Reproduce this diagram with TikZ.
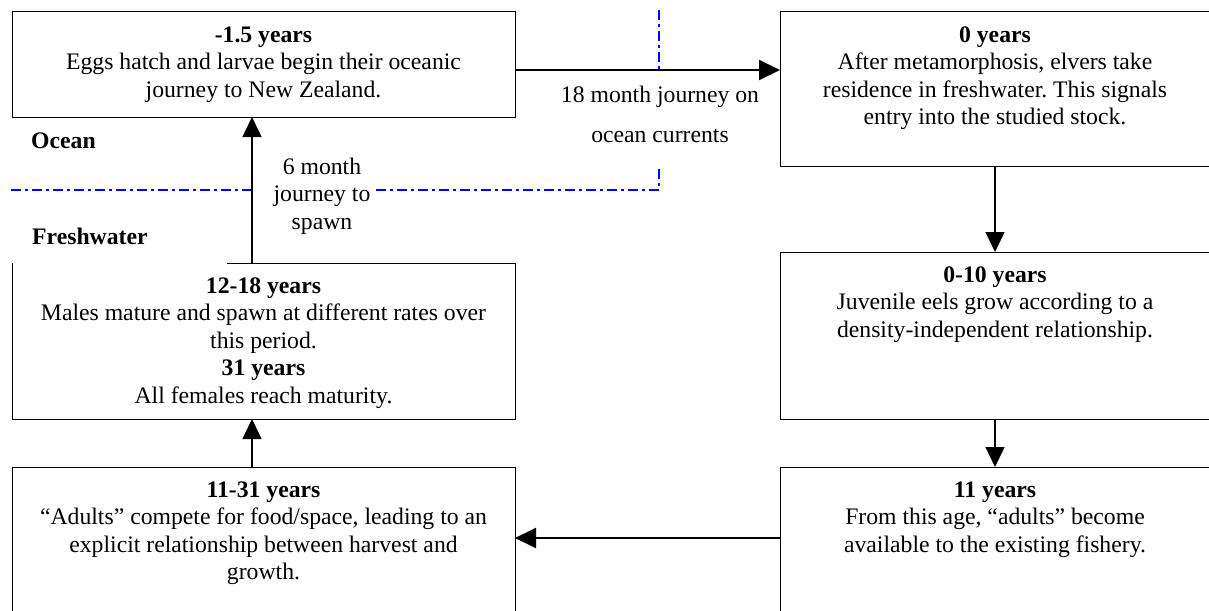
\documentclass[tikz,border=0pt]{standalone}
\usepackage{fontspec}
\setmainfont{Liberation Serif}
\usetikzlibrary{arrows.meta,calc}
\newcommand\tstrut{\rule{0pt}{18pt}}
\frenchspacing
\begin{document}
\begin{tikzpicture}[x=1pt,y=-1pt,
  box/.style={rectangle,draw=black,line width=1pt,inner sep=0pt,outer sep=0pt,anchor=north west},
  boxtext/.style={anchor=north,align=center,inner sep=0pt,font=\fontsize{23.7}{27.5}\selectfont},
  lbl/.style={anchor=north,align=center,inner sep=0pt},
  zone/.style={anchor=base west,inner sep=0pt,font=\fontsize{23.7}{27.5}\selectfont\bfseries},
  harrow/.style={line width=2pt,-{Triangle[length=21pt,width=20pt]}},
  varrow/.style={line width=1.5pt,-{Triangle[length=20pt,width=19pt]}},
  border/.style={blue,line width=2pt,dash pattern=on 10pt off 4pt on 3pt off 4pt}]
\useasboundingbox (0,0) rectangle (1209,610);
\fill[white] (0,0) rectangle (1209,610);
\clip (0,0) rectangle (1209,610);

% zone border (ocean / freshwater)
\draw[border] (11,190) -- (251,190);
\draw[border] (376,190) -- (659,190) -- (659,166);
\draw[border] (659,10) -- (659,70);

% boxes
\node[box,minimum width=503pt,minimum height=105pt] (A) at (12,12) {};
\node[box,minimum width=430pt,minimum height=154pt] (B) at (780,12) {};
\node[box,minimum width=430pt,minimum height=167pt] (C) at (780,252) {};
\node[box,minimum width=430pt,minimum height=173pt] (D) at (780,467) {};
\node[box,minimum width=503pt,minimum height=173pt] (E) at (12,467) {};
\node[box,draw=none,minimum width=503pt,minimum height=156pt] (F) at (12,263) {};
\draw[line width=1pt] ($(F.north west)+(215,0)$) -- (F.north east) -- (F.south east) -- (F.south west) -- (F.north west);

% box texts
\node[boxtext] (tA) at ([yshift=-12pt]A.north) {\tstrut\textbf{-1.5 years}\\Eggs hatch and larvae begin their oceanic\\journey to New Zealand.};
\node[boxtext] (tB) at ([yshift=-12pt]B.north) {\tstrut\textbf{0 years}\\After metamorphosis, elvers take\\residence in freshwater. This signals\\entry into the studied stock.};
\node[boxtext] (tC) at ([yshift=-12pt]C.north) {\tstrut\textbf{0-10 years}\\Juvenile eels grow according to a\\density-independent relationship.};
\node[boxtext] (tD) at ([yshift=-12pt]D.north) {\tstrut\textbf{11 years}\\From this age, “adults” become\\available to the existing fishery.};
\node[boxtext] (tE) at ([yshift=-12pt]E.north) {\tstrut\textbf{11-31 years}\\“Adults” compete for food/space, leading to an\\explicit relationship between harvest and\\growth.};
\node[boxtext] (tF) at ([yshift=-12pt]F.north) {\tstrut\textbf{12-18 years}\\Males mature and spawn at different rates over\\this period.\\\textbf{31 years}\\All females reach maturity.};

% zone labels
\node[zone] (ocean) at (31,148) {Ocean};
\node[zone] (fresh) at (32,244) {Freshwater};

% connectors
\coordinate (a1) at ($(A.north east)+(0,58)$);
\draw[harrow] (a1) -- (a1 -| B.west);
\draw[varrow] (B.south) -- (C.north);
\draw[varrow] (C.south) -- (D.north);
\coordinate (d1) at ($(D.north west)+(0,71)$);
\draw[harrow] (d1) -- (d1 -| E.east);
\draw[varrow] ([xshift=-11.5pt]E.north) -- ([xshift=-11.5pt]F.south);
\draw[varrow] ([xshift=-11.5pt]F.north) -- ([xshift=-11.5pt]A.south);

% connector labels
\node[lbl,font=\fontsize{23.7}{40}\selectfont] (l18) at (660,84) {\tstrut 18 month journey on\\ocean currents};
\node[lbl,font=\fontsize{23.7}{27.5}\selectfont] (l6) at (322,156) {\tstrut 6 month\\journey to\\spawn};
\end{tikzpicture}
\end{document}
